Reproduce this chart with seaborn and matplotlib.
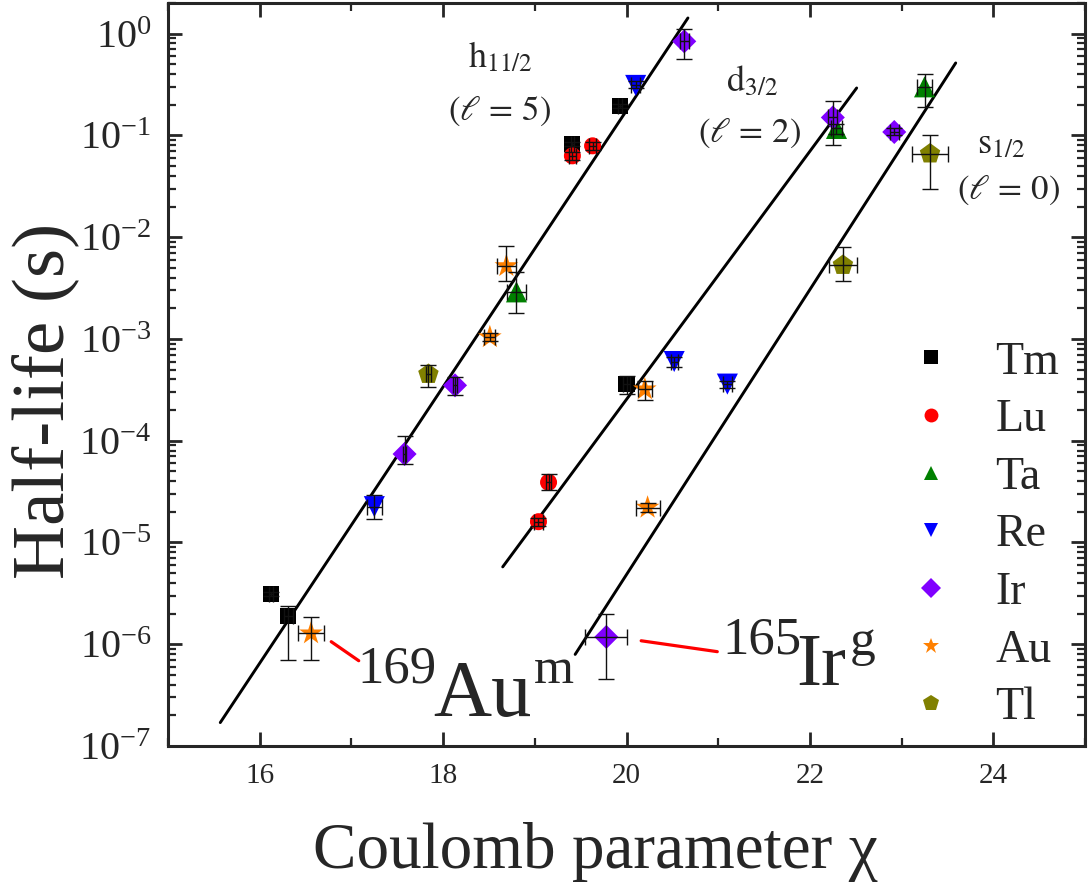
import numpy as np
import pandas as pd
import matplotlib
matplotlib.use("Agg")
import matplotlib.pyplot as plt
from matplotlib.lines import Line2D
from matplotlib.ticker import MultipleLocator, LogLocator, NullFormatter
import seaborn as sns

# ---------------- data ----------------
elements = ["Tm", "Lu", "Ta", "Re", "Ir", "Au", "Tl"]

tm_chi = [16.12, 16.31, 19.41, 19.93, 20.00]
tm_t = [3.1e-6, 1.9e-6, 0.083, 0.196, 3.6e-4]
tm_xerr = [0.02, 0.05, 0.02, 0.02, 0.04]
tm_tlo = [2.95e-6, 7.0e-7, 0.079, 0.188, 2.85e-4]
tm_thi = [3.25e-6, 2.4e-6, 0.087, 0.204, 4.3e-4]

lu_chi = [19.41, 19.63, 19.15, 19.04]
lu_t = [0.063, 0.079, 3.9e-5, 1.6e-5]
lu_xerr = [0.04, 0.04, 0.03, 0.05]
lu_tlo = [0.057, 0.072, 3.3e-5, 1.45e-5]
lu_thi = [0.069, 0.087, 4.7e-5, 1.75e-5]

ta_chi = [18.80, 22.29, 23.25]
ta_t = [2.9e-3, 0.117, 0.30]
ta_xerr = [0.10, 0.06, 0.08]
ta_tlo = [1.8e-3, 0.104, 0.19]
ta_thi = [4.5e-3, 0.130, 0.40]

re_chi = [17.25, 20.10, 20.52, 21.10]
re_t = [2.25e-5, 0.31, 6.0e-4, 3.6e-4]
re_xerr = [0.08, 0.05, 0.04, 0.05]
re_tlo = [1.7e-5, 0.29, 5.3e-4, 3.3e-4]
re_thi = [2.9e-5, 0.34, 6.7e-4, 3.9e-4]

ir_chi = [17.58, 18.13, 20.63, 22.25, 22.92, 19.78]
ir_t = [7.4e-5, 3.5e-4, 0.84, 0.15, 0.108, 1.18e-6]
ir_xerr = [0.02, 0.02, 0.05, 0.05, 0.05, 0.23]
ir_tlo = [5.9e-5, 2.8e-4, 0.56, 0.08, 0.100, 4.6e-7]
ir_thi = [1.1e-4, 4.2e-4, 1.10, 0.22, 0.117, 2.0e-6]

au_chi = [16.56, 18.69, 18.51, 20.20, 20.23]
au_t = [1.28e-6, 5.2e-3, 1.04e-3, 3.2e-4, 2.2e-5]
au_xerr = [0.14, 0.10, 0.06, 0.08, 0.13]
au_tlo = [7.0e-7, 3.7e-3, 0.95e-3, 2.5e-4, 2.0e-5]
au_thi = [1.86e-6, 8.1e-3, 1.15e-3, 3.9e-4, 2.45e-5]

tl_chi = [17.84, 22.36, 23.31]
tl_t = [4.5e-4, 5.3e-3, 0.066]
tl_xerr = [0.03, 0.15, 0.20]
tl_tlo = [3.4e-4, 3.7e-3, 0.030]
tl_thi = [5.5e-4, 8.0e-3, 0.100]

# straight-line systematics (log10 of half-life vs chi), end points
fit_labels = ["h11/2", "d3/2", "s1/2"]
fit_chi = [[15.57, 20.67], [18.65, 22.51], [19.44, 23.59]]
fit_log_t = [[-6.77, 0.154], [-5.24, -0.534], [-6.10, -0.288]]

# ---------------- styles ----------------
colors = {"Tm": "#000000", "Lu": "#ff0000", "Ta": "#008000", "Re": "#0000ff",
          "Ir": "#8000ff", "Au": "#ff8000", "Tl": "#808000"}
markers = {"Tm": "s", "Lu": "o", "Ta": "^", "Re": "v", "Ir": "D", "Au": "*", "Tl": "p"}
sizes = {"Tm": 135, "Lu": 150, "Ta": 230, "Re": 230, "Ir": 150, "Au": 320, "Tl": 240}

series = {
    "Tm": (tm_chi, tm_t, tm_xerr, tm_tlo, tm_thi),
    "Lu": (lu_chi, lu_t, lu_xerr, lu_tlo, lu_thi),
    "Ta": (ta_chi, ta_t, ta_xerr, ta_tlo, ta_thi),
    "Re": (re_chi, re_t, re_xerr, re_tlo, re_thi),
    "Ir": (ir_chi, ir_t, ir_xerr, ir_tlo, ir_thi),
    "Au": (au_chi, au_t, au_xerr, au_tlo, au_thi),
    "Tl": (tl_chi, tl_t, tl_xerr, tl_tlo, tl_thi),
}
rows = []
for el in elements:
    c, t, xe, lo, hi = series[el]
    for i in range(len(c)):
        rows.append(dict(element=el, chi=c[i], t=t[i], xerr=xe[i], tlo=lo[i], thi=hi[i]))
df = pd.DataFrame(rows)

# ---------------- plotting ----------------
sns.set_style("ticks")
plt.rcParams["font.family"] = ["Liberation Serif", "DejaVu Serif"]
plt.rcParams["mathtext.fontset"] = "stix"
plt.rcParams["axes.unicode_minus"] = False

fig = plt.figure(figsize=(10.92, 8.90), dpi=100)
ax = fig.add_axes([168 / 1092, 1 - 746 / 890, (1085 - 168) / 1092, (746 - 3) / 890])

for fx, fy in zip(fit_chi, fit_log_t):
    ax.plot(fx, 10 ** np.array(fy), color="black", lw=2.1, zorder=2)

for el in elements:
    sub = df[df.element == el]
    sns.scatterplot(data=sub, x="chi", y="t", color=colors[el], marker=markers[el],
                    s=sizes[el], edgecolor="none", linewidth=0, ax=ax, zorder=3, legend=False)

ax.errorbar(df.chi, df.t, xerr=df.xerr, yerr=[df.t - df.tlo, df.thi - df.t],
            fmt="none", ecolor="#111111", elinewidth=1.0, capsize=5.5, capthick=1.0, zorder=4)

ax.set_yscale("log")
ax.set_xlim(15, 25)
ax.set_ylim(1e-7, 2.0)

ax.xaxis.set_major_locator(MultipleLocator(2))
ax.xaxis.set_minor_locator(MultipleLocator(1))
ax.yaxis.set_major_locator(LogLocator(base=10, numticks=20))
ax.yaxis.set_minor_locator(LogLocator(base=10, subs=np.arange(2, 10), numticks=20))
ax.yaxis.set_minor_formatter(NullFormatter())

for s in ax.spines.values():
    s.set_linewidth(2.2)
ax.tick_params(which="both", direction="in", top=True, right=True)
ax.tick_params(which="major", length=10, width=2.0)
ax.tick_params(which="minor", length=6, width=1.6)
ax.tick_params(axis="x", which="major", labelsize=21, pad=12)
ax.tick_params(axis="y", which="major", labelsize=29, pad=12)

ax.set_xlabel("Coulomb parameter χ", fontsize=47, labelpad=24)
ax.xaxis.label.set_x(0.466)
ax.set_ylabel("Half-life (s)", fontsize=54, labelpad=0)
ax.yaxis.label.set_y(0.465)

# level labels
ax.text(18.62, 0.58, r"$\mathrm{h}_{11/2}$", fontsize=26, ha="center", va="center")
ax.text(18.62, 0.175, r"$(\ell\,=\,5)$", fontsize=25, ha="center", va="center")
ax.text(21.37, 0.337, r"$\mathrm{d}_{3/2}$", fontsize=26, ha="center", va="center")
ax.text(21.34, 0.106, r"$(\ell\,=\,2)$", fontsize=25, ha="center", va="center")
ax.text(24.08, 0.081, r"$\mathrm{s}_{1/2}$", fontsize=26, ha="center", va="center")
ax.text(24.17, 0.029, r"$(\ell\,=\,0)$", fontsize=25, ha="center", va="center")

# isotope annotations
ax.plot([16.78, 17.08], [10 ** -5.975, 10 ** -6.162], color="#ff0000", lw=2.3, zorder=5)
ax.plot([20.16, 20.99], [10 ** -5.966, 10 ** -6.073], color="#ff0000", lw=2.3, zorder=5)
ax.text(17.06, 4.16e-7, "169", fontsize=38, ha="left", va="baseline")
ax.text(17.89, 1.95e-7, "Au", fontsize=58, ha="left", va="baseline")
ax.text(18.99, 4.16e-7, "m", fontsize=37, ha="left", va="baseline")
ax.text(21.05, 8.19e-7, "165", fontsize=38, ha="left", va="baseline")
ax.text(21.85, 3.97e-7, "Ir", fontsize=54, ha="left", va="baseline")
ax.text(22.43, 7.83e-7, "g", fontsize=37, ha="left", va="baseline")

handles = [Line2D([], [], ls="none", marker=markers[el], color=colors[el],
                  markeredgewidth=0, markersize=(10 if el not in ("Au", "Tl") else 12))
           for el in elements]
leg = ax.legend(handles, elements, loc="upper left", frameon=False, fontsize=33,
                handlelength=0.8, handletextpad=1.0, labelspacing=0.33, borderpad=0,
                borderaxespad=0, bbox_to_anchor=(913 / 1092, (890 - 341) / 890),
                bbox_transform=fig.transFigure)

fig.savefig("out.png", dpi=100)
